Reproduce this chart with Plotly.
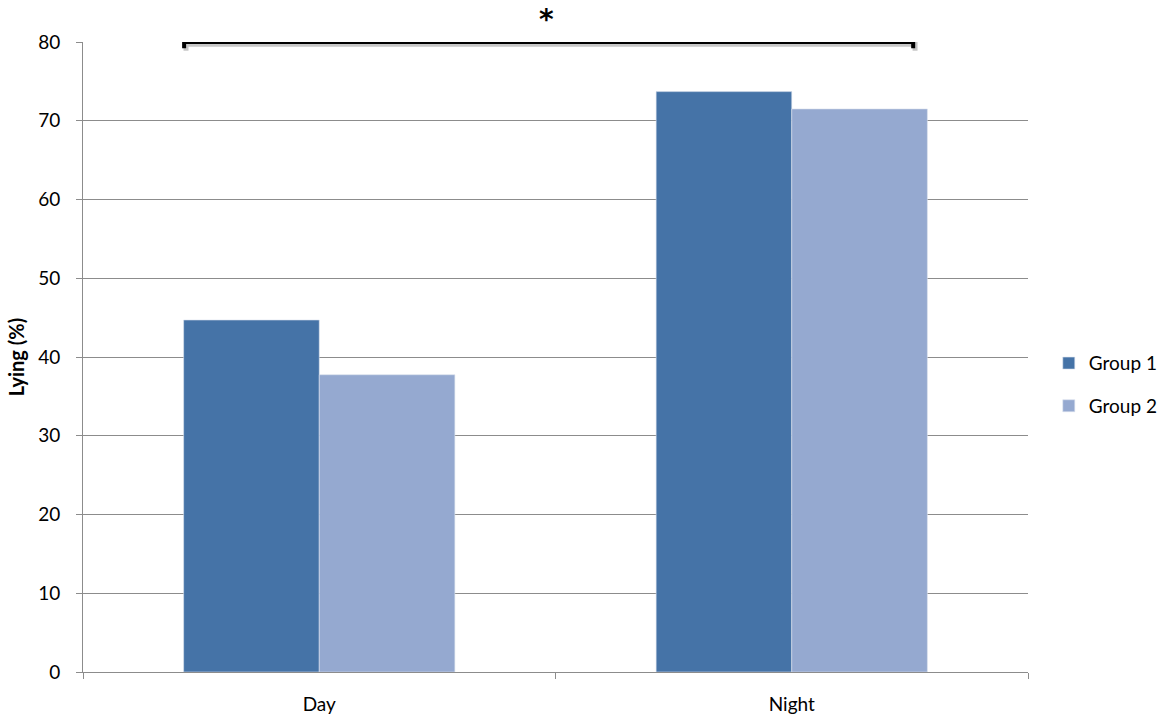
import plotly.graph_objects as go

categories = ["Day", "Night"]
group1 = [44.7, 73.7]
group2 = [37.75, 71.5]
series_names = ["Group 1", "Group 2"]
y_ticks = [0, 10, 20, 30, 40, 50, 60, 70, 80]

c1 = "#4573A7"
c2 = "#95A9D0"
grid = "#8C8C8C"
font = "Lato"

fig = go.Figure()
fig.add_trace(go.Bar(x=categories, y=group1, name=series_names[0], legendgroup="g1",
                     marker=dict(color=c1, line=dict(color="#DCE3EF", width=0.6))))
fig.add_trace(go.Bar(x=categories, y=group2, name=series_names[1], legendgroup="g2",
                     marker=dict(color=c2, line=dict(color="#DCE3EF", width=0.6))))

# significance bracket (shadow + line)
x0, x1, yb, yt = -0.286, 1.257, 79.2, 80.0
for dx, dy, col, w in [(0.004, -0.3, "rgba(0,0,0,0.22)", 5), (0, 0, "black", 4)]:
    fig.add_shape(type="path",
                  path=f"M {x0+dx},{yb+dy} L {x0+dx},{yt+dy} L {x1+dx},{yt+dy} L {x1+dx},{yb+dy}",
                  xref="x", yref="y", line=dict(color=col, width=w))
fig.add_annotation(x=(x0 + x1) / 2 - 0.004, y=80, yshift=23, text="<b>*</b>", showarrow=False,
                   font=dict(size=28, color="black", family="DejaVu Sans"), xref="x", yref="y")

fig.update_layout(
    width=1169, height=718,
    margin=dict(l=83, r=141, t=42, b=46, autoexpand=False),
    paper_bgcolor="white", plot_bgcolor="white",
    barmode="group", bargap=0.426, bargroupgap=0,
    font=dict(family=font, size=19, color="black"),
    legend=dict(x=1.022, y=0.456, xanchor="left", yanchor="middle",
                font=dict(size=19, family=font), itemwidth=30, tracegroupgap=15,
                traceorder="grouped", bgcolor="rgba(0,0,0,0)"),
    showlegend=True,
)
fig.update_xaxes(
    showgrid=False, showline=True, linecolor=grid, linewidth=1,
    ticks="outside", tickson="boundaries", ticklen=6, tickcolor=grid,
    tickfont=dict(size=19, family=font), range=[-0.5, 1.5], ticklabelstandoff=15,
)
fig.update_yaxes(
    range=[0, 80], tickvals=y_ticks, showgrid=True, gridcolor=grid, gridwidth=1,
    showline=True, linecolor=grid, linewidth=1, ticks="outside", ticklen=6, tickcolor=grid,
    tickfont=dict(size=19, family=font), zeroline=False, ticklabelstandoff=12,
    title=dict(text="<b>Lying (%)</b>", font=dict(size=20, family=font), standoff=8),
)

fig.write_html("out.html", config={"displayModeBar": False},
               post_script="document.body.style.margin='0';")
